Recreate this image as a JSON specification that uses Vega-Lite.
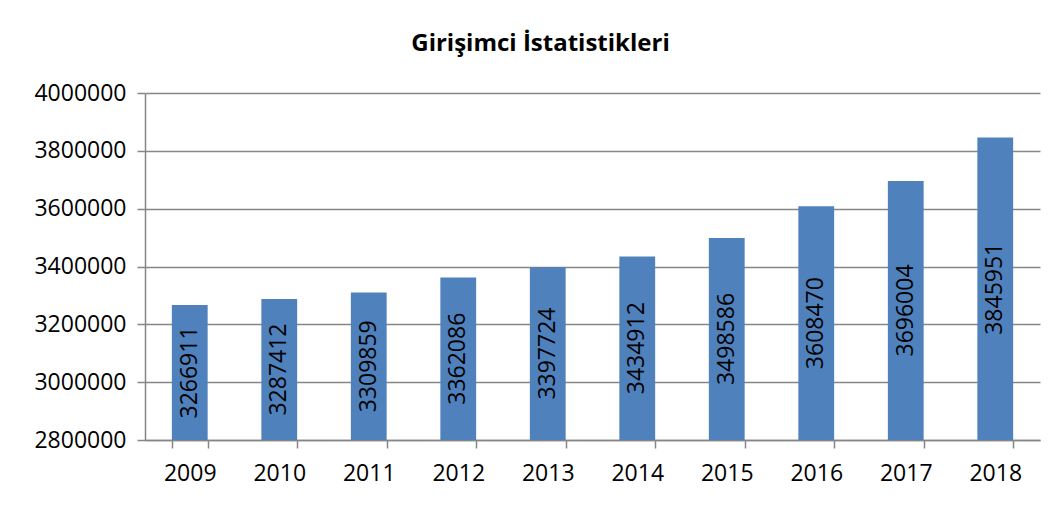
{
  "$schema": "https://vega.github.io/schema/vega-lite/v6.json",
  "autosize": "none",
  "width": 895,
  "height": 347,
  "padding": {"left": 145, "top": 93, "right": 21, "bottom": 67},
  "background": "white",
  "title": {
    "text": "Girişimci İstatistikleri",
    "font": "Open Sans",
    "fontSize": 24,
    "fontWeight": "bold",
    "color": "#000000",
    "anchor": "middle",
    "baseline": "alphabetic",
    "dx": -52,
    "dy": 34,
    "offset": 41
  },
  "data": {
    "values": [
      {"year": "2009", "value": 3266911},
      {"year": "2010", "value": 3287412},
      {"year": "2011", "value": 3309859},
      {"year": "2012", "value": 3362086},
      {"year": "2013", "value": 3397724},
      {"year": "2014", "value": 3434912},
      {"year": "2015", "value": 3498586},
      {"year": "2016", "value": 3608470},
      {"year": "2017", "value": 3696004},
      {"year": "2018", "value": 3845951}
    ]
  },
  "encoding": {
    "x": {
      "field": "year",
      "type": "ordinal",
      "scale": {"paddingInner": 0.6, "paddingOuter": 0.3},
      "axis": {
        "title": null,
        "labelAngle": 0,
        "labelFont": "Open Sans",
        "labelFontSize": 23,
        "labelColor": "#000000",
        "labelPadding": 14,
        "tickBand": "extent",
        "tickSize": 8,
        "tickColor": "#868686",
        "tickWidth": 1.5,
        "domainColor": "#868686",
        "domainWidth": 1.5,
        "grid": false
      }
    }
  },
  "layer": [
    {
      "mark": {"type": "bar", "color": "#4F81BD", "clip": true},
      "encoding": {
        "y": {
          "field": "value",
          "type": "quantitative",
          "scale": {"domain": [2800000, 4000000], "zero": false, "nice": false},
          "axis": {
            "title": null,
            "values": [2800000, 3000000, 3200000, 3400000, 3600000, 3800000, 4000000],
            "format": "d",
            "labelFont": "Open Sans",
            "labelFontSize": 23,
            "labelColor": "#000000",
            "labelPadding": 11,
            "tickSize": 8,
            "tickColor": "#868686",
            "tickWidth": 1.5,
            "domainColor": "#868686",
            "domainWidth": 1.5,
            "grid": true,
            "gridColor": "#868686",
            "gridWidth": 1.5
          }
        }
      }
    },
    {
      "transform": [{"calculate": "(datum.value + 2800000) / 2", "as": "mid"}],
      "mark": {
        "type": "text",
        "angle": 270,
        "align": "center",
        "baseline": "middle",
        "font": "Open Sans",
        "fontSize": 23,
        "color": "#000000"
      },
      "encoding": {
        "y": {"field": "mid", "type": "quantitative"},
        "text": {"field": "value", "type": "quantitative", "format": "d"}
      }
    }
  ],
  "config": {"view": {"stroke": null}}
}
